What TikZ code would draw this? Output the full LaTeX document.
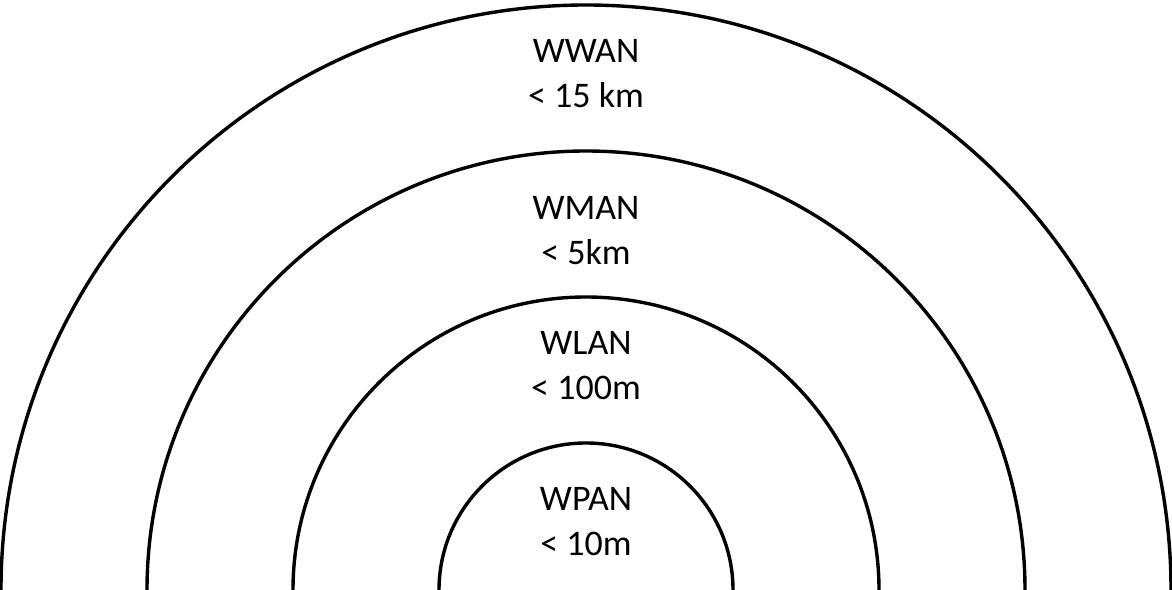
\documentclass[tikz,border=0pt]{standalone}
\usepackage{fontspec}
\setmainfont{Carlito}
\begin{document}
\begin{tikzpicture}[x=1pt,y=1pt,
  ring/.style={line width=3.4pt,draw=black},
  lbl/.style={align=center,inner sep=0pt,anchor=base,font=\fontsize{36}{45}\selectfont}]
\useasboundingbox (0,0) rectangle (1172,589);
\fill[white] (0,0) rectangle (1172,589);
\coordinate (c) at (586,-1);
\begin{scope}
\clip (0,0) rectangle (1172,589);
\draw[ring] (c) circle (147);
\draw[ring] (c) circle (293);
\draw[ring] (c) circle (439);
\draw[ring] (c) circle (585);
\end{scope}
\node[lbl] (wwan) at (586,481) {WWAN\\< 15 km};
\node[lbl] (wman) at (586,324) {WMAN\\< 5km};
\node[lbl] (wlan) at (586,189) {WLAN\\< 100m};
\node[lbl] (wpan) at (586,34) {WPAN\\< 10m};
\end{tikzpicture}
\end{document}
